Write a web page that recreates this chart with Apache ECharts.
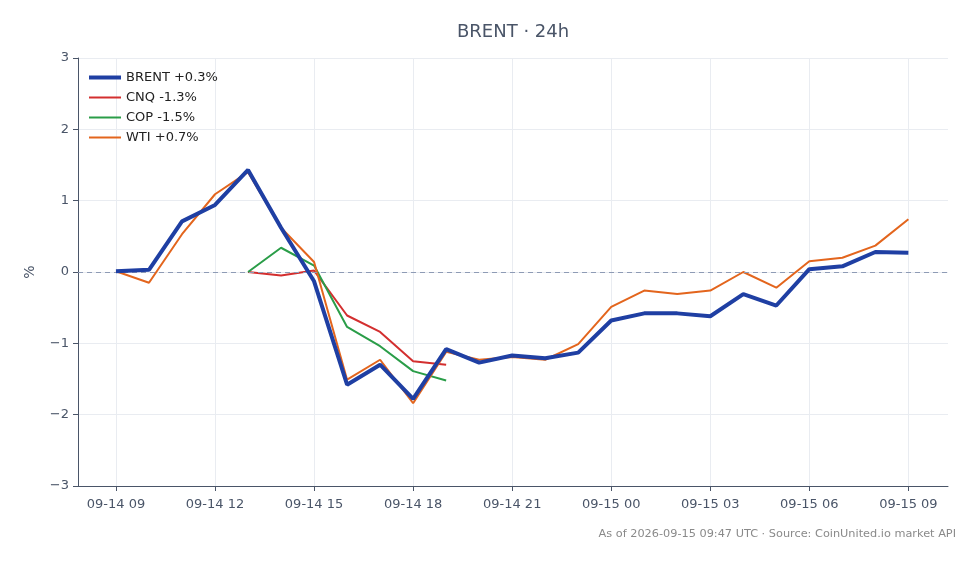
<!DOCTYPE html>
<html>
<head>
<meta charset="utf-8">
<script src="https://cdn.jsdelivr.net/npm/echarts@6/dist/echarts.min.js"></script>
<style>
html,body{margin:0;padding:0;background:#fff;}
#c{width:980px;height:564px;}
</style>
</head>
<body>
<div id="c"></div>
<script>
const hours = ['09-14 09','09-14 10','09-14 11','09-14 12','09-14 13','09-14 14','09-14 15','09-14 16','09-14 17','09-14 18','09-14 19','09-14 20','09-14 21','09-14 22','09-14 23','09-15 00','09-15 01','09-15 02','09-15 03','09-15 04','09-15 05','09-15 06','09-15 07','09-15 08','09-15 09'];
const tickLabels = ['09-14 09','09-14 12','09-14 15','09-14 18','09-14 21','09-15 00','09-15 03','09-15 06','09-15 09'];
const brent = [0.01,0.03,0.71,0.94,1.43,0.62,-0.13,-1.58,-1.30,-1.78,-1.08,-1.27,-1.17,-1.21,-1.13,-0.68,-0.58,-0.58,-0.62,-0.31,-0.47,0.04,0.08,0.28,0.27];
const wti = [0.01,-0.15,0.53,1.09,1.40,0.62,0.14,-1.51,-1.23,-1.84,-1.12,-1.23,-1.19,-1.23,-1.01,-0.49,-0.26,-0.31,-0.26,0.00,-0.22,0.15,0.20,0.37,0.74];
const cnq = [null,null,null,null,0.00,-0.05,0.02,-0.61,-0.84,-1.25,-1.30,null,null,null,null,null,null,null,null,null,null,null,null,null,null];
const cop = [null,null,null,null,0.00,0.34,0.09,-0.77,-1.04,-1.39,-1.52,null,null,null,null,null,null,null,null,null,null,null,null,null,null];
const seriesNames = ['BRENT +0.3%','CNQ -1.3%','COP -1.5%','WTI +0.7%'];
const colors = ['#1f3fa3','#d32f2f','#2a9d48','#e3651d'];
const widths = [4,2,2,2];

function pairs(arr){
  const out=[];
  arr.forEach((v,i)=>{ if(v!==null) out.push([i,v]); });
  return out;
}
const tickIdx = tickLabels.map(l => hours.indexOf(l));
const font = 'DejaVu Sans';
const chart = echarts.init(document.getElementById('c'));
const mk = (name, data, color, width, z, extra) => Object.assign({
  name, type:'line', data:pairs(data), showSymbol:false, symbol:'none',
  lineStyle:{color, width}, itemStyle:{color}, z, animation:false
}, extra||{});
chart.setOption({
  animation:false,
  textStyle:{fontFamily:font},
  title:{text:'BRENT · 24h', left:452, top:18, textStyle:{fontFamily:font, fontSize:18, fontWeight:'normal', color:'#4a5568'}},
  graphic:[{type:'text', right:24, top:529, style:{text:'As of 2026-09-15 09:47 UTC · Source: CoinUnited.io market API', fontFamily:font, fontSize:11.3, fill:'#8a8a8a'}}],
  legend:{orient:'vertical', left:82, top:66, itemWidth:32, itemHeight:14, itemGap:7,
    itemStyle:{opacity:0},
    textStyle:{fontFamily:font, fontSize:13, color:'#222'},
    data:seriesNames.map((n,i)=>({name:n, itemStyle:{opacity:0}, lineStyle:{width:widths[i], color:colors[i]}}))},
  grid:{left:78, right:32, top:58, bottom:78},
  xAxis:{type:'value', min:-1.15, max:25.2,
    axisLine:{onZero:false, lineStyle:{color:'#4a5568', width:1}},
    axisTick:{show:true, length:5, lineStyle:{color:'#4a5568'}, customValues:tickIdx},
    axisLabel:{customValues:tickIdx, margin:12, fontFamily:font, fontSize:13, color:'#4a5568', formatter:v=>hours[Math.round(v)]||''},
    splitLine:{show:true, lineStyle:{color:'#e9ecf1', width:1}}
  },
  yAxis:{type:'value', min:-3, max:3, interval:1, name:'%', nameLocation:'middle', nameGap:41, nameRotate:90,
    nameTextStyle:{fontFamily:font, fontSize:14, color:'#4a5568'},
    axisLine:{show:true, onZero:false, lineStyle:{color:'#4a5568', width:1}},
    axisTick:{show:true, length:5, lineStyle:{color:'#4a5568'}},
    axisLabel:{margin:9, fontFamily:font, fontSize:13, color:'#4a5568', formatter:v=>String(v).replace('-','\u2212')},
    splitLine:{show:true, lineStyle:{color:'#e9ecf1', width:1}}
  },
  series:[
    mk(seriesNames[0], brent, colors[0], 4, 5, {markLine:{silent:true, symbol:'none', label:{show:false},
      lineStyle:{color:'#8e9bb5', type:[5,4], width:1}, data:[{yAxis:0}]}}),
    mk(seriesNames[1], cnq, colors[1], 2, 4),
    mk(seriesNames[2], cop, colors[2], 2, 4),
    mk(seriesNames[3], wti, colors[3], 2, 4)
  ]
});
</script>
</body>
</html>
